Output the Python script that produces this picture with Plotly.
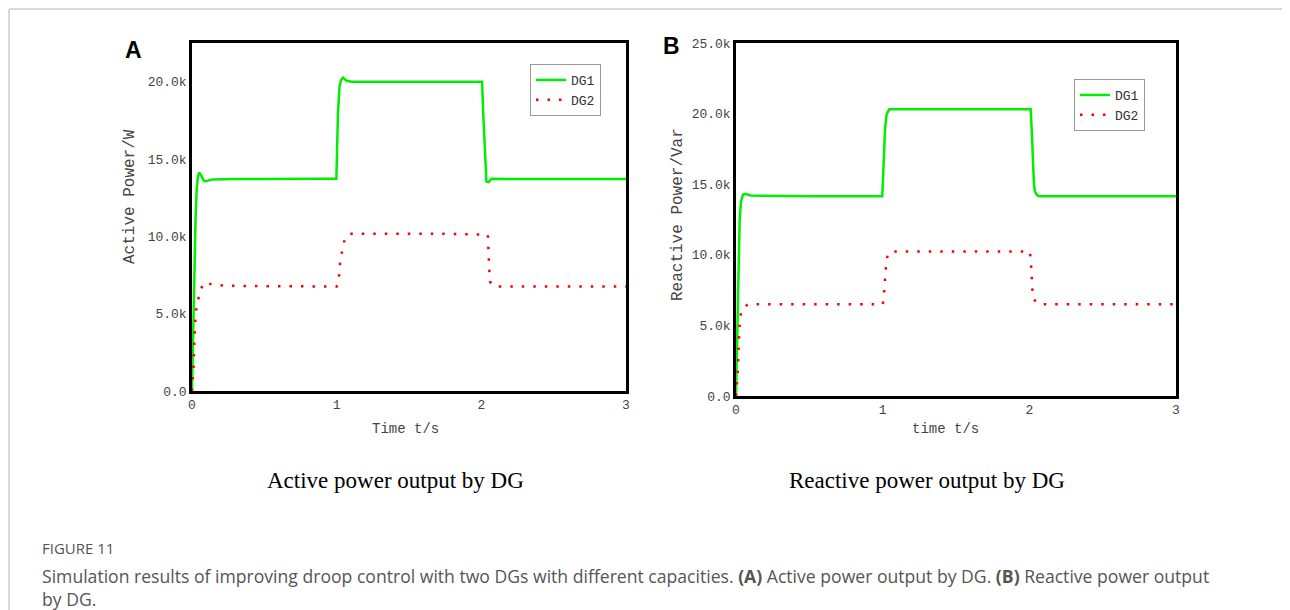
import plotly.graph_objects as go

# ---------------- data ----------------
# Panel A: active power (W)
a_dg1_t = [0, 0.005, 0.01, 0.014, 0.02, 0.025, 0.032, 0.04, 0.049, 0.06, 0.075, 0.088, 0.11, 0.14, 0.3, 0.5,
           0.7, 0.9, 0.998, 1.009, 1.02, 1.03, 1.044, 1.067, 1.1, 1.3, 1.5, 1.8, 2.005, 2.012, 2.021, 2.03,
           2.035, 2.05, 2.07, 2.2, 2.5, 2.8, 3.0]
a_dg1_v = [0, 2500, 5000, 7000, 9500, 11300, 13000, 13800, 14120, 14000, 13700, 13550, 13600, 13680, 13700, 13720,
           13700, 13720, 13720, 17980, 19690, 20100, 20270, 20070, 20000, 20000, 20010, 20000, 20000, 18200, 16000, 14100,
           13540, 13500, 13720, 13700, 13700, 13720, 13700]

a_dg2_t = [0, 0.007, 0.01, 0.014, 0.02, 0.025, 0.035, 0.046, 0.06, 0.09, 0.14, 0.18, 0.3, 0.6, 1.0, 1.013,
           1.02, 1.025, 1.04, 1.056, 1.09, 1.4, 1.7, 2.045, 2.05, 2.055, 2.06, 2.08, 2.1, 2.5, 3.0]
a_dg2_v = [0, 700, 1350, 2650, 4000, 5000, 5600, 6100, 6600, 7030, 6880, 6840, 6800, 6770, 6760, 6980,
           7840, 8490, 9140, 9830, 10170, 10170, 10170, 10100, 9350, 7840, 7080, 6800, 6760, 6760, 6760]

# Panel B: reactive power (Var)
b_dg1_t = [0, 0.004, 0.008, 0.012, 0.018, 0.025, 0.034, 0.048, 0.066, 0.1, 0.5, 0.997, 1.008, 1.016, 1.027,
           1.045, 1.06, 1.5, 2.009, 2.016, 2.023, 2.031, 2.038, 2.054, 2.07, 2.5, 3.0]
b_dg1_v = [0, 2500, 4800, 6600, 9500, 12500, 13800, 14270, 14300, 14200, 14150, 14150, 16800, 18900, 19950,
           20300, 20300, 20300, 20300, 18900, 17000, 15100, 14500, 14200, 14150, 14150, 14150]

b_dg2_t = [0, 0.007, 0.01, 0.014, 0.018, 0.02, 0.027, 0.041, 0.08, 0.15, 0.5, 1.0, 1.006, 1.011, 1.018,
           1.025, 1.035, 1.058, 1.5, 2.003, 2.01, 2.015, 2.02, 2.027, 2.05, 2.08, 2.5, 3.0]
b_dg2_v = [0, 780, 1350, 2080, 3550, 4270, 5560, 6150, 6480, 6500, 6490, 6490, 6800, 7880, 8600,
           9450, 10050, 10240, 10220, 10240, 9700, 8370, 7640, 6920, 6600, 6490, 6490, 6490]

x_ticks = [0, 1, 2, 3]
a_yticks = [0, 5000, 10000, 15000, 20000]
a_yticktext = ["0.0", "5.0k", "10.0k", "15.0k", "20.0k"]
b_yticks = [0, 5000, 10000, 15000, 20000, 25000]
b_yticktext = ["0.0", "5.0k", "10.0k", "15.0k", "20.0k", "25.0k"]

series_names = ["DG1", "DG2"]

# ---------------- figure ----------------
W, H = 1290, 610
OFF = 8  # page body margin in the browser
GREEN = "#00ee00"
RED = "#ff0000"
MONO = "Liberation Mono"
TICKCOL = "#444444"

fig = go.Figure()

fig.add_trace(go.Scatter(x=a_dg1_t, y=a_dg1_v, mode="lines", name=series_names[0],
                         line=dict(color=GREEN, width=2.5), xaxis="x", yaxis="y", legend="legend"))
fig.add_trace(go.Scatter(x=a_dg2_t, y=a_dg2_v, mode="lines", name=series_names[1],
                         line=dict(color=RED, width=2.5, dash="2.5px,9px"), xaxis="x", yaxis="y", legend="legend"))
fig.add_trace(go.Scatter(x=b_dg1_t, y=b_dg1_v, mode="lines", name=series_names[0],
                         line=dict(color=GREEN, width=2.5), xaxis="x2", yaxis="y2", legend="legend2"))
fig.add_trace(go.Scatter(x=b_dg2_t, y=b_dg2_v, mode="lines", name=series_names[1],
                         line=dict(color=RED, width=2.5, dash="2.5px,9px"), xaxis="x2", yaxis="y2", legend="legend2"))


def px(x):
    return (x - OFF) / W


def py(y):
    return 1 - (y - OFF) / H


axis_common = dict(showline=True, linecolor="black", linewidth=2.5, mirror=True, showgrid=False,
                   zeroline=False, ticks="", automargin=False,
                   tickfont=dict(family=MONO, size=13, color=TICKCOL))

fig.update_layout(
    width=W, height=H,
    autosize=False,
    margin=dict(l=0, r=0, t=0, b=0, pad=0, autoexpand=False),
    paper_bgcolor="white", plot_bgcolor="white",
    xaxis=dict(domain=[px(192), px(626)], range=[0, 3], tickvals=x_ticks, anchor="y", **axis_common),
    yaxis=dict(domain=[py(391), py(43)], range=[0, 22500], tickvals=a_yticks, ticktext=a_yticktext,
               anchor="x", **axis_common),
    xaxis2=dict(domain=[px(736), px(1176)], range=[0, 3], tickvals=x_ticks, anchor="y2", **axis_common),
    yaxis2=dict(domain=[py(396), py(43)], range=[0, 25000], tickvals=b_yticks, ticktext=b_yticktext,
                anchor="x2", **axis_common),
    legend=dict(x=px(530), y=py(64), xanchor="left", yanchor="top", bordercolor="#999999", borderwidth=1,
                bgcolor="white", font=dict(family=MONO, size=13, color="#333333"), tracegroupgap=0),
    legend2=dict(x=px(1074), y=py(79), xanchor="left", yanchor="top", bordercolor="#999999", borderwidth=1,
                 bgcolor="white", font=dict(family=MONO, size=13, color="#333333"), tracegroupgap=0),
    showlegend=True,
)

ann = []
title_font = dict(family=MONO, size=14, color="#444444")
ann.append(dict(text="Time t/s", x=px(405), y=py(429), xref="paper", yref="paper", showarrow=False,
                font=title_font, xanchor="center", yanchor="middle"))
ann.append(dict(text="time t/s", x=px(945), y=py(429), xref="paper", yref="paper", showarrow=False,
                font=title_font, xanchor="center", yanchor="middle"))
ann.append(dict(text="Active Power/W", x=px(130), y=py(197), xref="paper", yref="paper", showarrow=False,
                textangle=-90, font=dict(family=MONO, size=16, color="#444444"), xanchor="center", yanchor="middle"))
ann.append(dict(text="Reactive Power/Var", x=px(678), y=py(215), xref="paper", yref="paper", showarrow=False,
                textangle=-90, font=dict(family=MONO, size=16, color="#444444"), xanchor="center", yanchor="middle"))
ann.append(dict(text="<b>A</b>", x=px(133), y=py(50), xref="paper", yref="paper", showarrow=False,
                font=dict(family="Liberation Sans", size=23, color="black"), xanchor="center", yanchor="middle"))
ann.append(dict(text="<b>B</b>", x=px(671), y=py(46), xref="paper", yref="paper", showarrow=False,
                font=dict(family="Liberation Sans", size=23, color="black"), xanchor="center", yanchor="middle"))
ann.append(dict(text="Active power output by DG", x=px(395), y=py(480), xref="paper", yref="paper",
                showarrow=False, font=dict(family="Liberation Serif", size=23, color="black"),
                xanchor="center", yanchor="middle"))
ann.append(dict(text="Reactive power output by DG", x=px(927), y=py(480), xref="paper", yref="paper",
                showarrow=False, font=dict(family="Liberation Serif", size=23, color="black"),
                xanchor="center", yanchor="middle"))
ann.append(dict(text="FIGURE 11", x=px(40), y=py(548), xref="paper", yref="paper", showarrow=False,
                font=dict(family="Open Sans", size=15, color="#555555"), xanchor="left", yanchor="middle"))
ann.append(dict(text="Simulation results of improving droop control with two DGs with different capacities. "
                     "<b>(A)</b> Active power output by DG. <b>(B)</b> Reactive power output<br>by DG.",
                x=px(40), y=py(562), xref="paper", yref="paper", showarrow=False, align="left",
                font=dict(family="Open Sans", size=17.6, color="#555555"), xanchor="left", yanchor="top"))
fig.update_layout(annotations=ann)

# page frame lines (top and left)
fig.add_shape(type="line", xref="paper", yref="paper", x0=px(9), x1=1, y0=py(9), y1=py(9),
              line=dict(color="#cccccc", width=1.5))
fig.add_shape(type="line", xref="paper", yref="paper", x0=px(9), x1=px(9), y0=py(9), y1=0,
              line=dict(color="#cccccc", width=1.5))

fig.write_html("out.html")
